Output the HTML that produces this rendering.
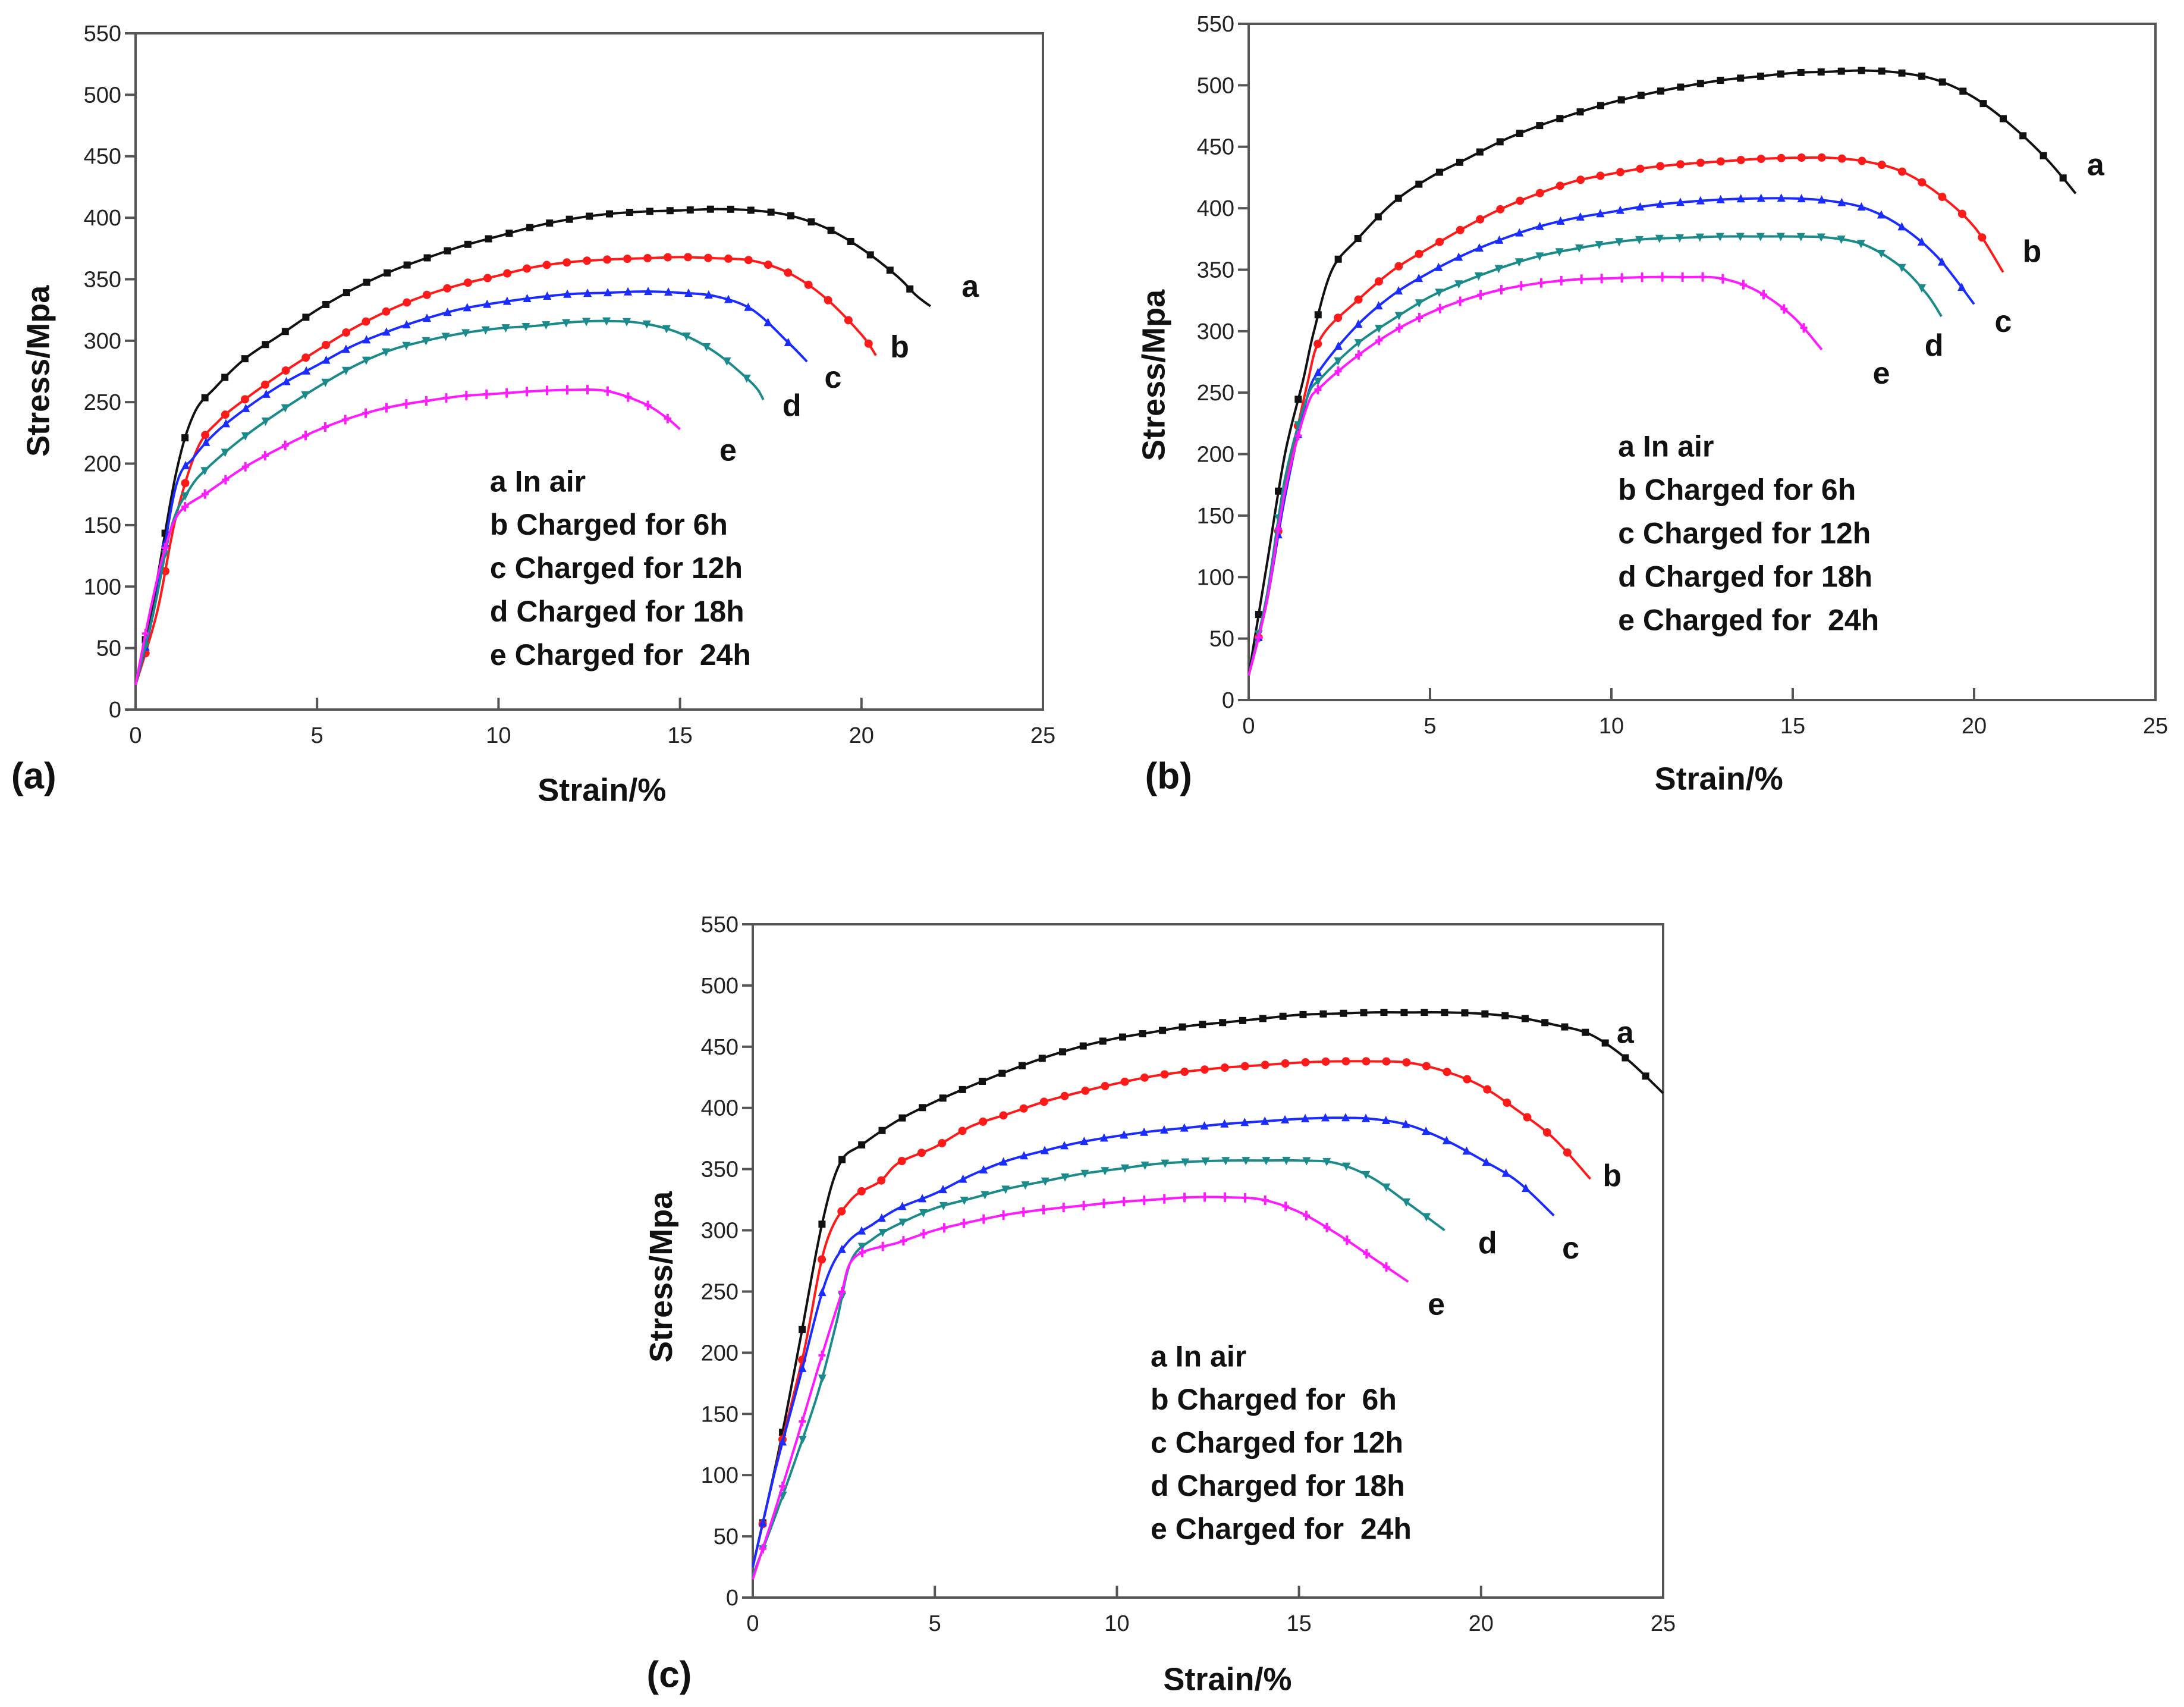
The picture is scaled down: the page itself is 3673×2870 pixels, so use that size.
<!DOCTYPE html>
<html><head><meta charset="utf-8">
<style>
html,body{margin:0;padding:0;background:#fff;}
svg{display:block;}
text{font-family:"Liberation Sans",Arial,sans-serif;}
</style></head>
<body>
<svg id="fig" width="3673" height="2870" viewBox="0 0 3673 2870" xmlns="http://www.w3.org/2000/svg"></svg>
<script>
const NS="http://www.w3.org/2000/svg";
const xTicks=[0,5,10,15,20,25];
const yTicks=[0,50,100,150,200,250,300,350,400,450,500,550];
const seriesNames=["a","b","c","d","e"];
const seriesColors=["#111111","#ff1a1a","#1a2cff","#1a8a8a","#ff1aff"];
const legendLabels=["a In air","b Charged for 6h","c Charged for 12h","d Charged for 18h","e Charged for\u00a0\u00a024h"];
const legendLabelsC=["a In air","b Charged for\u00a0\u00a06h","c Charged for 12h","d Charged for 18h","e Charged for\u00a0\u00a024h"];

const aStrainA=[0,0.5,1.1,1.6,2.2,3,4,5,6,7,8,9,10,11,12,13,14,15,16,17,18,19,20,21,21.5,21.9];
const aStressA=[20,90,190,240,262,285,305,325,342,356,367,377,385,393,399,403,405,406,407,406,402,392,375,352,337,328];
const aStrainB=[0,0.6,1.1,1.7,2.3,3,4,5,6,7,8,9,10,11,12,13,14,15,16,17,18,19,20,20.4];
const aStressB=[20,80,155,212,235,252,273,292,310,325,337,346,353,360,364,366,367,368,367,365,355,335,305,288];
const aStrainC=[0,0.5,1.1,1.6,2.2,3,4,5,6,7,8,9,10,11,12,13,14,15,16,17,18,18.5];
const aStressC=[20,80,180,205,225,244,264,280,296,308,318,326,331,335,338,339,340,339,336,325,298,283];
const aStrainD=[0,0.5,1,1.5,2,3,4,5,6,7,8,9,10,11,12,13,14,15,16,17,17.3];
const aStressD=[20,80,150,180,197,222,243,262,279,292,300,306,310,312,315,316,314,306,290,265,252];
const aStrainE=[0,0.4,0.8,1.2,2,3,4,5,6,7,8,9,10,11,12,13,14,14.6,15];
const aStressE=[20,80,130,160,177,197,213,227,238,246,251,255,257,259,260,259,249,238,228];

const bStrainA=[0,0.5,1,1.5,1.8,2.3,3,4,5,6,7,8,9,10,11,12,13,14,15,16,17,18,19,20,21,22,22.8];
const bStressA=[20,110,200,260,300,350,375,405,425,440,455,467,477,486,493,499,504,507,510,511,512,510,504,490,468,440,412];
const bStrainB=[0,0.5,1,1.6,2,3,4,5,6,7,8,9,10,11,12,13,14,15,16,17,18,19,20,20.8];
const bStressB=[20,80,170,255,295,325,350,368,385,400,412,422,428,433,436,438,440,441,441,438,430,412,385,348];
const bStrainC=[0,0.5,1,1.6,2,3,4,5,6,7,8,9,10,11,12,13,14,15,16,17,18,19,20];
const bStressC=[20,80,165,245,270,305,330,348,363,375,385,392,397,402,405,407,408,408,406,400,385,360,322];
const bStrainD=[0,0.5,1,1.6,2,3,4,5,6,7,8,9,10,11,12,13,14,15,16,17,18,18.7,19.1];
const bStressD=[20,85,180,245,262,290,310,328,341,352,361,367,372,375,376,377,377,377,376,370,352,330,312];
const bStrainE=[0,0.5,1,1.6,2,3,4,5,6,7,8,9,10,11,12,13,14,15,15.8];
const bStressE=[20,80,170,238,255,280,300,315,326,334,339,342,343,344,344,343,333,312,285];

const cStrainA=[0,0.7,1.3,1.9,2.4,3,4,5,6,7,8,9,10,11,12,13,14,15,16,17,18,19,20,21,22,23,24,25];
const cStressA=[25,118,210,305,355,370,390,405,418,430,441,450,457,462,467,470,473,476,477,478,478,478,477,474,468,460,440,412];
const cStrainB=[0,0.7,1.4,2,2.7,3.5,4,5,6,7,8,9,10,11,12,13,14,15,16,17,18,19,20,21,22,23];
const cStressB=[25,115,200,288,325,340,355,368,385,395,405,413,420,426,430,433,435,437,438,438,437,430,418,398,375,342];
const cStrainC=[0,0.6,1.3,2,2.6,3.3,4,5,6,7,8,9,10,11,12,13,14,15,16,17,18,19,20,21,22];
const cStressC=[25,102,180,258,290,305,318,330,345,357,365,372,377,381,384,387,389,391,392,391,386,374,358,340,312];
const cStrainD=[0,0.6,1.2,1.8,2.3,2.7,3.3,4,5,6,7,8,9,10,11,12,13,14,15,16,17,18,19];
const cStressD=[18,65,115,168,225,275,293,305,318,326,334,340,346,350,354,356,357,357,357,355,343,322,300];
const cStrainE=[0,0.6,1.2,1.8,2.4,2.8,4,5,6,7,8,9,10,11,12,13,14,15,16,17,18];
const cStressE=[15,70,128,188,245,278,290,300,307,313,317,320,323,325,327,327,325,315,298,278,258];

const svg=document.getElementById('fig');
function el(tag,attrs,parent){const e=document.createElementNS(NS,tag);for(const k in attrs)e.setAttribute(k,attrs[k]);(parent||svg).appendChild(e);return e;}

function smoothPath(pts){
  let d="M"+pts[0][0].toFixed(1)+","+pts[0][1].toFixed(1);
  for(let i=0;i<pts.length-1;i++){
    const p0=pts[Math.max(0,i-1)],p1=pts[i],p2=pts[i+1],p3=pts[Math.min(pts.length-1,i+2)];
    const c1=[p1[0]+(p2[0]-p0[0])/6,p1[1]+(p2[1]-p0[1])/6];
    const c2=[p2[0]-(p3[0]-p1[0])/6,p2[1]-(p3[1]-p1[1])/6];
    d+="C"+c1[0].toFixed(1)+","+c1[1].toFixed(1)+" "+c2[0].toFixed(1)+","+c2[1].toFixed(1)+" "+p2[0].toFixed(1)+","+p2[1].toFixed(1);
  }
  return d;
}
function marker(g,kind,x,y,color){
  const s=6;
  let m;
  if(kind===0)m=el('rect',{x:x-s,y:y-s,width:2*s,height:2*s,fill:color},g);
  else if(kind===1)m=el('circle',{cx:x,cy:y,r:s+1,fill:color},g);
  else if(kind===2)m=el('polygon',{points:`${x},${y-s-2} ${x-s-1},${y+s} ${x+s+1},${y+s}`,fill:color},g);
  else if(kind===3)m=el('polygon',{points:`${x},${y+s+2} ${x-s-1},${y-s} ${x+s+1},${y-s}`,fill:color},g);
  else m=el('path',{d:`M${x-s},${y}H${x+s}M${x},${y-s-2}V${y+s+2}`,stroke:color,'stroke-width':4,fill:'none'},g);
  
  
}

function panel(cfg){
  const g=el('g',{});
  
  
  const L=cfg.l,R=cfg.r,T=cfg.t,B=cfg.b;
  const sx=v=>L+(v-0)/25*(R-L);
  const sy=v=>B-(v/550)*(B-T);
  const fr=el('rect',{x:L,y:T,width:R-L,height:B-T,fill:'none',stroke:'#555','stroke-width':4},g);
  
  xTicks.forEach(v=>{
    const x=sx(v);
    el('line',{x1:x,y1:B,x2:x,y2:B-20,stroke:'#555','stroke-width':4},g);
    const t=el('text',{x:x,y:B+56,'font-size':38,'text-anchor':'middle',fill:'#222'},g);
    t.textContent=v;
    
  });
  yTicks.forEach(v=>{
    const y=sy(v);
    el('line',{x1:L,y1:y,x2:L-18,y2:y,stroke:'#555','stroke-width':4},g);
    const t=el('text',{x:L-24,y:y+13,'font-size':38,'text-anchor':'end',fill:'#222'},g);
    t.textContent=v;
    
  });
  cfg.data.forEach((s,i)=>{
    const pts=s[0].map((v,j)=>[sx(v),sy(s[1][j])]);
    const sg=el('g',{},g);
    
    
    const p=el('path',{d:smoothPath(pts),fill:'none',stroke:seriesColors[i],'stroke-width':4},sg);
    
    
    const len=p.getTotalLength();
    const dx=33;
    let lastX=pts[0][0]-dx*0.5;
    for(let d=0;d<len-20;d+=2){
      const q=p.getPointAtLength(d);
      if(q.x-lastX>=dx){marker(sg,i,q.x,q.y,seriesColors[i]);lastX=q.x;}
    }
  });
  cfg.curveLabels.forEach((p,i)=>{
    const t=el('text',{x:p[0],y:p[1],'font-size':52,'font-weight':'bold',fill:'#111'},g);
    t.textContent=seriesNames[i];
    
  });
  cfg.legend.forEach((s,i)=>{
    const t=el('text',{x:cfg.legX,y:cfg.legY+i*cfg.legDy,'font-size':50,'font-weight':'bold',fill:'#111'},g);
    t.textContent=s;
    
  });
  const xt=el('text',{x:cfg.xtX,y:cfg.xtY,'font-size':54,'font-weight':'bold','text-anchor':'middle',fill:'#111'},g);
  xt.textContent='Strain/%';
  
  const yt=el('text',{x:0,y:0,'font-size':54,'font-weight':'bold','text-anchor':'middle',fill:'#111',transform:`translate(${cfg.ytX},${cfg.ytY}) rotate(-90)`},g);
  yt.textContent='Stress/Mpa';
  
  const pl=el('text',{x:cfg.plX,y:cfg.plY,'font-size':62,'font-weight':'bold',fill:'#111'},g);
  pl.textContent='('+cfg.id+')';
  
}
const k=2.354;
panel({id:'a',l:228,r:1754,t:56,b:1193,
  data:[[aStrainA,aStressA],[aStrainB,aStressB],[aStrainC,aStressC],[aStrainD,aStressD],[aStrainE,aStressE]],
  curveLabels:[[687*k,212*k],[636*k,255*k],[589*k,277*k],[559*k,297*k],[514*k,329*k]],
  legend:legendLabels,legX:350*k,legY:351*k,legDy:31*k,
  xtX:430*k,xtY:572*k,ytX:35*k,ytY:265*k,plX:8*k,plY:563*k});
panel({id:'b',l:2100,r:3625,t:40,b:1177,
  data:[[bStrainA,bStressA],[bStrainB,bStressB],[bStrainC,bStressC],[bStrainD,bStressD],[bStrainE,bStressE]],
  curveLabels:[[1491*k,125*k],[1445*k,187*k],[1425*k,237*k],[1375*k,254*k],[1338*k,274*k]],
  legend:legendLabels,legX:1156*k,legY:326*k,legDy:31*k,
  xtX:1228*k,xtY:564*k,ytX:832*k,ytY:268*k,plX:818*k,plY:563*k});
panel({id:'c',l:1266,r:2797,t:1554,b:2686,
  data:[[cStrainA,cStressA],[cStrainB,cStressB],[cStrainC,cStressC],[cStrainD,cStressD],[cStrainE,cStressE]],
  curveLabels:[[1155*k,745*k],[1145*k,847*k],[1116*k,899*k],[1056*k,895*k],[1020*k,939*k]],
  legend:legendLabelsC,legX:822*k,legY:976*k,legDy:30.8*k,
  xtX:877*k,xtY:1207*k,ytX:480*k,ytY:912*k,plX:462*k,plY:1205*k});
</script>
</body></html>
